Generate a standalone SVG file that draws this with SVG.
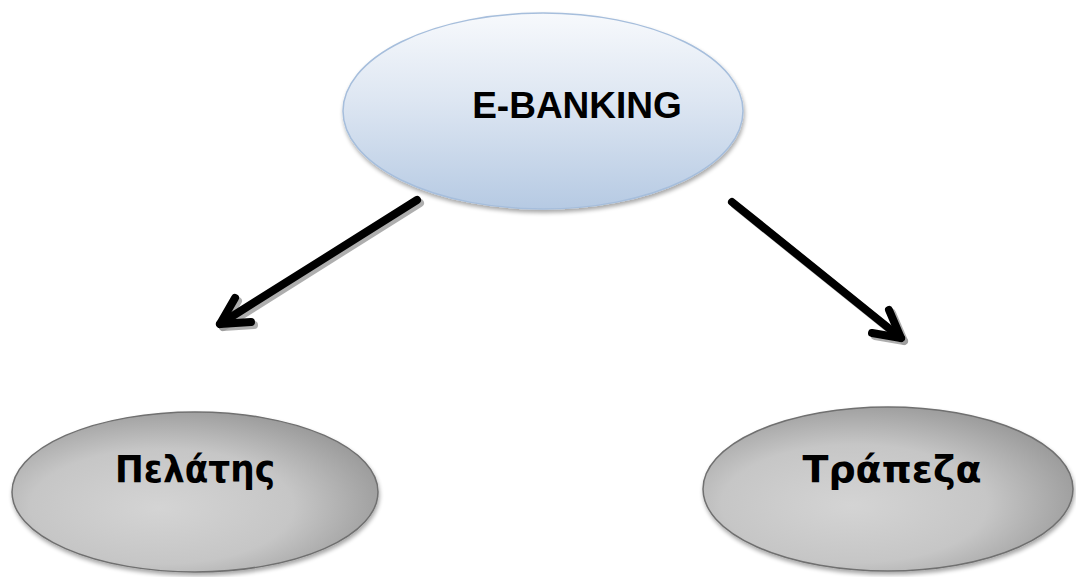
<svg xmlns="http://www.w3.org/2000/svg" width="1076" height="577" viewBox="0 0 1076 577">
<defs>
<linearGradient id="blue" x1="0" y1="0" x2="0" y2="1">
<stop offset="0" stop-color="#f7f9fc"/>
<stop offset="0.45" stop-color="#dde6f2"/>
<stop offset="1" stop-color="#b6cae3"/>
</linearGradient>
<radialGradient id="gray" cx="0.42" cy="0.58" r="0.72" fx="0.4" fy="0.6">
<stop offset="0" stop-color="#d4d4d4"/>
<stop offset="0.5" stop-color="#c6c6c6"/>
<stop offset="1" stop-color="#8a8a8a"/>
</radialGradient>
<filter id="sh" x="-10%" y="-10%" width="120%" height="130%">
<feGaussianBlur in="SourceAlpha" stdDeviation="2"/>
<feOffset dx="1" dy="3"/>
<feComponentTransfer><feFuncA type="linear" slope="0.35"/></feComponentTransfer>
<feMerge><feMergeNode/><feMergeNode in="SourceGraphic"/></feMerge>
</filter>
</defs>
<style>
.lbl{font-family:"DejaVu Sans","Liberation Sans",sans-serif;font-weight:bold;fill:#000;text-anchor:middle}
.top{font-family:"Liberation Sans",Arial,sans-serif;font-weight:bold;fill:#000;text-anchor:middle}
.arr{fill:none;stroke:#000;stroke-width:8;stroke-linecap:round;stroke-linejoin:round}
.arrs{fill:none;stroke:#9a9a9a;stroke-width:8;stroke-linecap:round;stroke-linejoin:round;opacity:0.8}
</style>
<rect width="1076" height="577" fill="#fff"/>
<g id="node-ebanking">
<ellipse cx="543" cy="111" rx="200" ry="98" fill="url(#blue)" stroke="#a6bedc" stroke-width="1.5" filter="url(#sh)"/>
<text class="top" x="577" y="118" font-size="37">E-BANKING</text>
</g>
<g id="node-pelatis">
<ellipse cx="195" cy="492" rx="183" ry="80" fill="url(#gray)" stroke="#707070" stroke-width="1.5" filter="url(#sh)"/>
<text class="lbl" x="195" y="482" font-size="37" textLength="160" lengthAdjust="spacingAndGlyphs">Πελάτης</text>
</g>
<g id="node-trapeza">
<ellipse cx="888" cy="489" rx="185" ry="82" fill="url(#gray)" stroke="#707070" stroke-width="1.5" filter="url(#sh)"/>
<text class="lbl" x="892" y="482" font-size="38" textLength="179" lengthAdjust="spacingAndGlyphs">Τράπεζα</text>
</g>
<g id="connectors">
<g transform="translate(3,3)">
<path class="arrs" d="M417 200 L220 324"/>
<path class="arrs" d="M235 298 L220 324 L251 322"/>
<path class="arrs" d="M732 202 L901 338"/>
<path class="arrs" d="M889 310 L901 338 L872 333"/>
</g>
<path class="arr" d="M417 200 L220 324"/>
<path class="arr" d="M235 298 L220 324 L251 322"/>
<path class="arr" d="M732 202 L901 338"/>
<path class="arr" d="M889 310 L901 338 L872 333"/>
</g>
</svg>
